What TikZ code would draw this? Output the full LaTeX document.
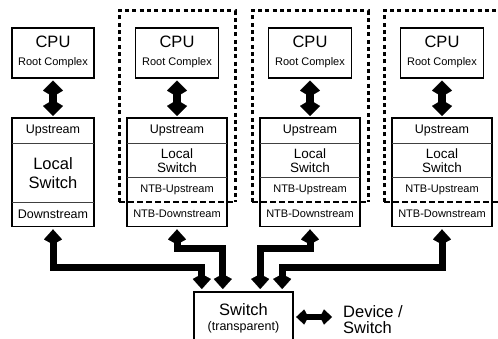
\documentclass[tikz,border=0pt]{standalone}
\usepackage{fontspec}
\setmainfont{Liberation Sans}
\usetikzlibrary{arrows.meta,calc}
\newcommand\fsz[2]{\fontsize{#1pt}{#2pt}\selectfont}
\tikzset{
  box/.style={draw,line width=1.6pt},
  div/.style={draw,line width=0.8pt,black!75},
  cellst/.style={inner sep=0pt,anchor=north,align=center},
  dotframe/.style={line width=3pt,dash pattern=on 4pt off 3.3pt},
  dashline/.style={line width=1.8pt,dash pattern=on 6pt off 3pt},
  vbi/.style={line width=8.5pt,arrows={Kite[length=16pt,width=20pt,inset=6pt,line width=0.01pt]-Kite[length=16pt,width=20pt,inset=6pt,line width=0.01pt]}},
  cbi/.style={line width=7pt,line join=miter,arrows={Kite[length=15pt,width=18pt,inset=5pt,line width=0.01pt]-Kite[length=15pt,width=18pt,inset=5pt,line width=0.01pt]}},
  hbi/.style={line width=6pt,arrows={Kite[length=12pt,width=15pt,inset=4pt,line width=0.01pt]-Kite[length=12pt,width=15pt,inset=4pt,line width=0.01pt]}},
}
\begin{document}
\begin{tikzpicture}[x=1pt,y=-1pt]
\path[fill=white] (0,0) rectangle (498,339);
\useasboundingbox (0,0) rectangle (498,339);

% column 1
\node[box,minimum width=82pt,minimum height=50pt,anchor=north] (cpu1) at (53,27) {};
\node[font=\fsz{16.5}{18}] (cput1) at (53,42) {CPU};
\node[font=\fsz{11}{13}] (rc1) at (53,62.5) {Root Complex};
\node[cellst,minimum width=82pt,minimum height=25pt,font=\fsz{12.5}{14}] (up1) at (53,118) {Upstream};
\node[cellst,minimum width=82pt,minimum height=59pt,font=\fsz{16.5}{19}] (ls1) at (53,143) {Local\\Switch};
\node[cellst,minimum width=82pt,minimum height=24pt,font=\fsz{12.5}{14}] (ds1) at (53,202) {Downstream};
\draw[box] (up1.north west) rectangle (ds1.south east);
\draw[div] (up1.south west) -- (up1.south east);
\draw[div] (ls1.south west) -- (ls1.south east);
\draw[vbi] ($(cpu1.south)+(0,2)$) -- ($(up1.north)+(0,-2)$);

% columns 2-4
\foreach \i/\c in {2/177,3/310,4/442}{
  \node[box,minimum width=83pt,minimum height=50pt,anchor=north] (cpu\i) at (\c,27) {};
  \node[font=\fsz{16.5}{18}] (cput\i) at (\c,42) {CPU};
  \node[font=\fsz{11}{13}] (rc\i) at (\c,62.5) {Root Complex};
  \node[cellst,minimum width=100pt,minimum height=25pt,font=\fsz{12.5}{14}] (up\i) at (\c,118) {Upstream};
  \node[cellst,minimum width=100pt,minimum height=34pt,font=\fsz{13.5}{14}] (ls\i) at (\c,143) {Local\\Switch};
  \node[cellst,minimum width=100pt,minimum height=25pt,font=\fsz{11}{13}] (nu\i) at (\c,177) {NTB-Upstream};
  \node[cellst,minimum width=100pt,minimum height=24pt,font=\fsz{11}{13}] (nd\i) at (\c,202) {NTB-Downstream};
  \draw[box] (up\i.north west) rectangle (nd\i.south east);
  \draw[div] (up\i.south west) -- (up\i.south east);
  \draw[div] (ls\i.south west) -- (ls\i.south east);
  \draw[vbi] ($(cpu\i.south)+(0,2)$) -- ($(up\i.north)+(0,-2)$);
}
% NTB frames
\draw[dotframe] (119,202) -- (119,11) -- (235,11) -- (235,202);
\draw[dashline] (119,202) -- (235,202);
\draw[dotframe] (252,202) -- (252,11) -- (368,11) -- (368,202);
\draw[dashline] (252,202) -- (368,202);
\draw[dotframe] (384,202) -- (384,11) -- (498,11);
\draw[dashline] (384,202) -- (498,202);

% transparent switch
\node[inner sep=0pt,minimum width=99pt,minimum height=47pt,anchor=north] (sw) at (243.5,292) {};
\draw[box] (sw.south west) -- (sw.north west) -- (sw.north east) -- (sw.south east);
\node[font=\fsz{16.5}{18}] (swt) at (243.5,310) {Switch};
\node[font=\fsz{12.5}{14}] (swp) at (243.5,327) {(transparent)};

% connectors
\draw[cbi] ($(ds1.south)+(0,3)$) |- ($(sw.north west)+(8,-25)$) -- ($(sw.north west)+(8,-3)$);
\draw[cbi] ($(nd2.south)+(0,3)$) |- ($(sw.north west)+(29,-43)$) -- ($(sw.north west)+(29,-3)$);
\draw[cbi] ($(nd3.south)+(0,3)$) |- ($(sw.north east)+(-33,-43)$) -- ($(sw.north east)+(-33,-3)$);
\draw[cbi] ($(nd4.south)+(0,3)$) |- ($(sw.north east)+(-11,-25)$) -- ($(sw.north east)+(-11,-3)$);

% device / switch
\node[inner sep=0pt,anchor=west,align=left,font=\fsz{16.5}{16}] (dev) at (343,320) {Device /\\Switch};
\draw[hbi] ($(sw.north east)+(3,25)$) -- ($(dev.west)+(-11,-3)$);
\end{tikzpicture}
\end{document}
